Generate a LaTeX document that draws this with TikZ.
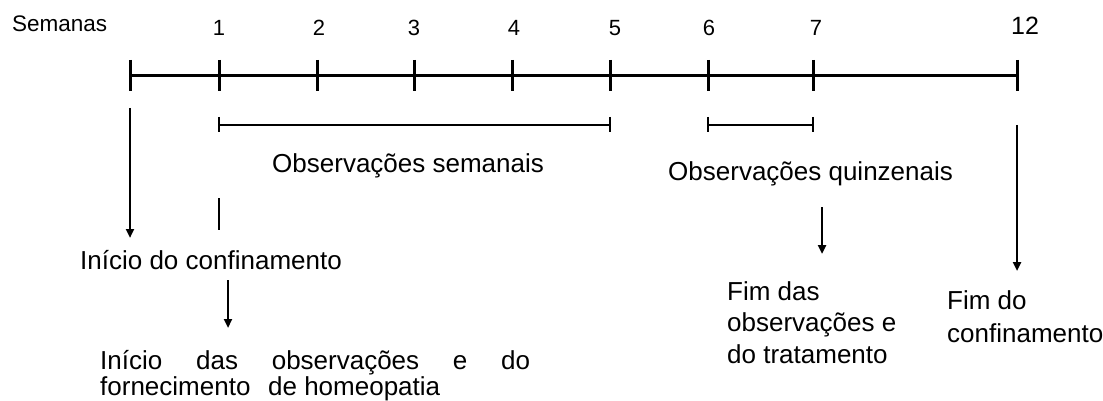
\documentclass[tikz,border=0pt]{standalone}
\usepackage{fontspec}
\setmainfont{Liberation Sans}
\usetikzlibrary{arrows.meta}
\begin{document}
\begin{tikzpicture}[x=1pt,y=-1pt,
  txt/.style={inner sep=0pt,anchor=base west,font=\fontsize{26}{31.5}\selectfont,align=left},
  num/.style={inner sep=0pt,anchor=base,font=\fontsize{22}{26}\selectfont},
  axis/.style={line width=3pt},
  tick/.style={line width=3pt},
  brk/.style={line width=2.5pt},
  arr/.style={line width=2.5pt,-{Triangle[length=9pt,width=8pt]}},
  seg/.style={line width=2.5pt}]
\useasboundingbox (0,0) rectangle (1103,401);
% labels of weeks
\node[inner sep=0pt,anchor=base west,font=\fontsize{22.5}{26}\selectfont] (sem) at (12,32) {Semanas};
\node[num] (n1) at (219,36) {1};
\node[num] (n2) at (319,36) {2};
\node[num] (n3) at (414,36) {3};
\node[num] (n4) at (514,36) {4};
\node[num] (n5) at (615,36) {5};
\node[num] (n6) at (709,36) {6};
\node[num] (n7) at (816,36) {7};
\node[num,font=\fontsize{25}{30}\selectfont] (n12) at (1025,35) {12};
% axis
\foreach \n/\x in {0/130,1/219,2/317,3/414,4/512,5/610,6/708,7/813,12/1017}{
  \coordinate (t\n) at (\x,76);
  \draw[tick] (\x,60) -- (\x,91);
}
\draw[axis] (t0) -- (t12);
% brackets
\coordinate (b1a) at (219,125); \coordinate (b1b) at (610,125);
\coordinate (b2a) at (708,125); \coordinate (b2b) at (813,125);
\draw[brk] (b1a) -- (b1b);
\draw[brk] (219,117) -- (219,132);
\draw[brk] (610,117) -- (610,132);
\draw[brk] (b2a) -- (b2b);
\draw[brk] (708,117) -- (708,132);
\draw[brk] (813,117) -- (813,132);
\node[txt] (osem) at (272,172) {Observações semanais};
\node[txt] (oquin) at (668,180) {Observações quinzenais};
% text blocks (base anchor = last line)
\node[txt] (ini) at (80,269) {Início do confinamento};
\node[txt,font=\fontsize{26}{26}\selectfont] (inobs) at (100,395) {\hbox to 430pt{Início\hfill das\hfill observações\hfill e\hfill do}\\\hbox to 340pt{fornecimento\hfill de homeopatia}};
\node[txt] (fimobs) at (727,363) {Fim das\\observações e\\do tratamento};
\node[txt,font=\fontsize{26}{33}\selectfont] (fimconf) at (947,342) {Fim do\\confinamento};
% connectors
\coordinate (a0s) at (130,108); \coordinate (a0e) at (130,238);
\draw[arr] (a0s) -- (a0e);
\coordinate (s1s) at (219,198); \coordinate (s1e) at (219,230);
\draw[seg] (s1s) -- (s1e);
\coordinate (a1s) at (228,280); \coordinate (a1e) at (228,328);
\draw[arr] (a1s) -- (a1e);
\coordinate (a7s) at (822,207); \coordinate (a7e) at (822,254);
\draw[arr] (a7s) -- (a7e);
\coordinate (a12s) at (1017,125); \coordinate (a12e) at (1017,271);
\draw[arr] (a12s) -- (a12e);
\end{tikzpicture}
\end{document}
